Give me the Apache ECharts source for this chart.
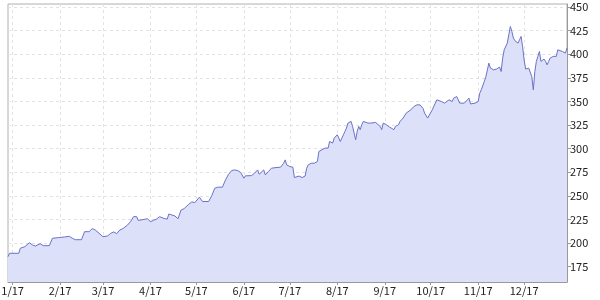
<!DOCTYPE html>
<html>
<head>
<meta charset="utf-8">
<script src="https://cdn.jsdelivr.net/npm/echarts@6/dist/echarts.min.js"></script>
<style>html,body{margin:0;padding:0;background:#fff}#c{width:600px;height:300px}</style>
</head>
<body>
<div id="c"></div>
<script>
const dates = [
'2016-12-29','2016-12-30','2017-01-05','2017-01-06','2017-01-09','2017-01-12','2017-01-13','2017-01-14','2017-01-16','2017-01-19','2017-01-21','2017-01-25','2017-01-27','2017-01-31',
'2017-02-04','2017-02-07','2017-02-09','2017-02-11','2017-02-15','2017-02-17','2017-02-18','2017-02-20','2017-02-22','2017-02-24','2017-02-25',
'2017-03-01','2017-03-04','2017-03-06','2017-03-08','2017-03-09','2017-03-10','2017-03-12','2017-03-14','2017-03-15','2017-03-17','2017-03-19','2017-03-21','2017-03-23','2017-03-24','2017-03-25','2017-03-27','2017-03-28','2017-03-30','2017-03-31',
'2017-04-01','2017-04-03','2017-04-05','2017-04-07','2017-04-10','2017-04-12','2017-04-13','2017-04-15','2017-04-17','2017-04-19','2017-04-21','2017-04-23','2017-04-24','2017-04-26','2017-04-27','2017-04-28','2017-04-30',
'2017-05-01','2017-05-03','2017-05-05','2017-05-09','2017-05-11','2017-05-13','2017-05-15','2017-05-16','2017-05-18','2017-05-20','2017-05-22','2017-05-24','2017-05-26','2017-05-27','2017-05-28','2017-05-30',
'2017-06-01','2017-06-02','2017-06-06','2017-06-08','2017-06-10','2017-06-11','2017-06-12','2017-06-14','2017-06-15','2017-06-17','2017-06-19','2017-06-22','2017-06-23','2017-06-25','2017-06-27','2017-06-28','2017-06-29',
'2017-07-01','2017-07-03','2017-07-04','2017-07-07','2017-07-09','2017-07-11','2017-07-12','2017-07-13','2017-07-15','2017-07-17','2017-07-19','2017-07-20','2017-07-22','2017-07-24','2017-07-25','2017-07-26','2017-07-27','2017-07-28','2017-07-29','2017-07-30',
'2017-08-01','2017-08-02','2017-08-03','2017-08-04','2017-08-05','2017-08-06','2017-08-07','2017-08-08','2017-08-09','2017-08-10','2017-08-11','2017-08-13','2017-08-14','2017-08-15','2017-08-16','2017-08-17','2017-08-18','2017-08-19','2017-08-21','2017-08-23','2017-08-26','2017-08-27','2017-08-29','2017-08-30','2017-08-31',
'2017-09-01','2017-09-02','2017-09-04','2017-09-07','2017-09-08','2017-09-09','2017-09-10','2017-09-11','2017-09-13','2017-09-15','2017-09-18','2017-09-20','2017-09-22','2017-09-24','2017-09-26','2017-09-27','2017-09-28','2017-09-29','2017-09-30',
'2017-10-02','2017-10-04','2017-10-05','2017-10-06','2017-10-08','2017-10-09','2017-10-10','2017-10-13','2017-10-15','2017-10-16','2017-10-17','2017-10-18','2017-10-19','2017-10-20','2017-10-21','2017-10-23','2017-10-24','2017-10-26','2017-10-27','2017-10-28','2017-10-30',
'2017-11-01','2017-11-02','2017-11-03','2017-11-05','2017-11-06','2017-11-08','2017-11-09','2017-11-10','2017-11-11','2017-11-13','2017-11-15','2017-11-16','2017-11-17','2017-11-18','2017-11-20','2017-11-21','2017-11-22','2017-11-23','2017-11-24','2017-11-25','2017-11-26','2017-11-27','2017-11-28','2017-11-29','2017-11-30',
'2017-12-01','2017-12-02','2017-12-04','2017-12-05','2017-12-06','2017-12-07','2017-12-08','2017-12-09','2017-12-10','2017-12-11','2017-12-12','2017-12-14','2017-12-15','2017-12-16','2017-12-17','2017-12-18','2017-12-19','2017-12-20','2017-12-21','2017-12-22','2017-12-23','2017-12-26','2017-12-28','2017-12-29'
];
const prices = [
185.6,189.2,189.2,194.5,196.2,200.4,198.7,198.0,196.9,199.4,197.3,197.3,205.1,205.8,
206.5,207.2,205.1,203.6,203.6,212.1,212.8,212.1,215.3,213.9,211.8,
206.8,207.5,210.3,211.8,212.5,210.0,213.9,215.3,213.9,219.1,222.7,228.0,228.0,224.1,223.0,224.8,224.1,225.8,224.1,
222.7,224.1,225.5,228.0,226.0,225.5,230.8,229.8,228.7,225.8,235.0,236.5,237.2,241.1,242.2,243.6,242.9,
244.7,248.6,244.0,244.0,250.0,258.1,259.2,258.1,259.2,266.9,272.9,276.8,277.5,275.7,276.8,274.7,
268.7,271.2,271.5,274.0,277.5,272.9,271.2,277.5,272.2,275.7,279.3,280.0,282.1,280.4,284.6,288.1,282.8,
281.0,280.4,269.4,271.0,269.4,271.0,279.3,282.8,284.6,284.6,286.4,297.0,298.8,300.6,302.3,300.6,307.6,309.4,305.9,311.2,
314.7,311.2,307.6,311.2,314.7,318.2,321.8,327.1,328.9,328.9,323.6,309.4,318.2,323.6,320.1,325.4,328.9,327.1,327.1,327.1,327.8,326.1,323.6,320.1,327.1,
327.8,325.4,323.0,320.1,323.6,325.4,325.4,328.9,332.4,337.7,341.1,344.6,346.4,346.4,342.6,337.7,335.8,332.4,334.0,
341.1,348.2,351.7,351.7,349.9,351.7,348.2,351.7,349.9,353.5,355.2,355.2,353.5,348.2,349.2,348.2,347.7,353.5,347.4,346.4,348.2,
349.9,358.7,362.3,371.1,376.0,390.6,385.3,387.1,383.5,384.3,386.4,381.7,395.9,404.7,411.8,420.6,429.4,424.1,417.1,414.3,412.9,411.8,415.3,418.8,408.2,
394.1,384.3,385.3,386.4,376.4,362.3,381.7,392.4,397.7,402.9,392.4,394.9,392.4,388.8,392.4,395.9,394.1,397.7,399.4,397.7,404.7,402.9,401.2,406.5
];
const monthStarts = ['2017-01-01','2017-02-01','2017-03-01','2017-04-01','2017-05-01','2017-06-01','2017-07-01','2017-08-01','2017-09-01','2017-10-01','2017-11-01','2017-12-01'];
const monthLabels = ['1/17','2/17','3/17','4/17','5/17','6/17','7/17','8/17','9/17','10/17','11/17','12/17'];
const yTicks = [175,200,225,250,275,300,325,350,375,400,425,450];

function ts(s){const p=s.split('-').map(Number);return new Date(p[0],p[1]-1,p[2]).getTime();}
const monthTs = monthStarts.map(ts);
const seriesData = dates.map((d,i)=>[ts(d), prices[i]]);

const chart = echarts.init(document.getElementById('c'), null, {renderer:'canvas'});
const font = {fontFamily:'Noto Sans CJK JP, sans-serif', fontSize:11, color:'#222'};
chart.setOption({
  animation:false,
  backgroundColor:'#fff',
  grid:{left:8,right:33,top:4,bottom:18,show:true,borderColor:'#b0b0b0',borderWidth:1,outerBoundsMode:'none'},
  xAxis:{
    type:'value',
    min:ts('2016-12-29'), max:ts('2017-12-29'),
    axisLine:{show:true,lineStyle:{color:'#999',width:1}},
    axisTick:{show:true,length:3,lineStyle:{color:'#999'},customValues:monthTs},
    axisLabel:Object.assign({margin:3,customValues:monthTs,hideOverlap:false,
      formatter:function(v){let i=-1;for(let k=0;k<monthTs.length;k++){if(Math.abs(monthTs[k]-v)<3600000){i=k;}}return i>=0?monthLabels[i]:'';}},font),
    splitLine:{show:true,lineStyle:{color:'#e2e2e2',type:[3,3],width:1}}
  },
  yAxis:{
    type:'value', position:'right',
    min:158.8, max:453.2,
    axisLine:{show:true,lineStyle:{color:'#999',width:1}},
    axisTick:{show:true,length:4,lineStyle:{color:'#999'},customValues:yTicks},
    axisLabel:Object.assign({margin:3,customValues:yTicks},font),
    splitLine:{show:true,lineStyle:{color:'#e2e2e2',type:[3,3],width:1}}
  },
  series:[{
    type:'line',
    data:seriesData,
    showSymbol:false,
    symbol:'none',
    lineStyle:{color:'#6c72c6',width:1},
    areaStyle:{color:'#dce0f8',opacity:1},
    itemStyle:{color:'#6c72c6'}
  }]
});
</script>
</body>
</html>
